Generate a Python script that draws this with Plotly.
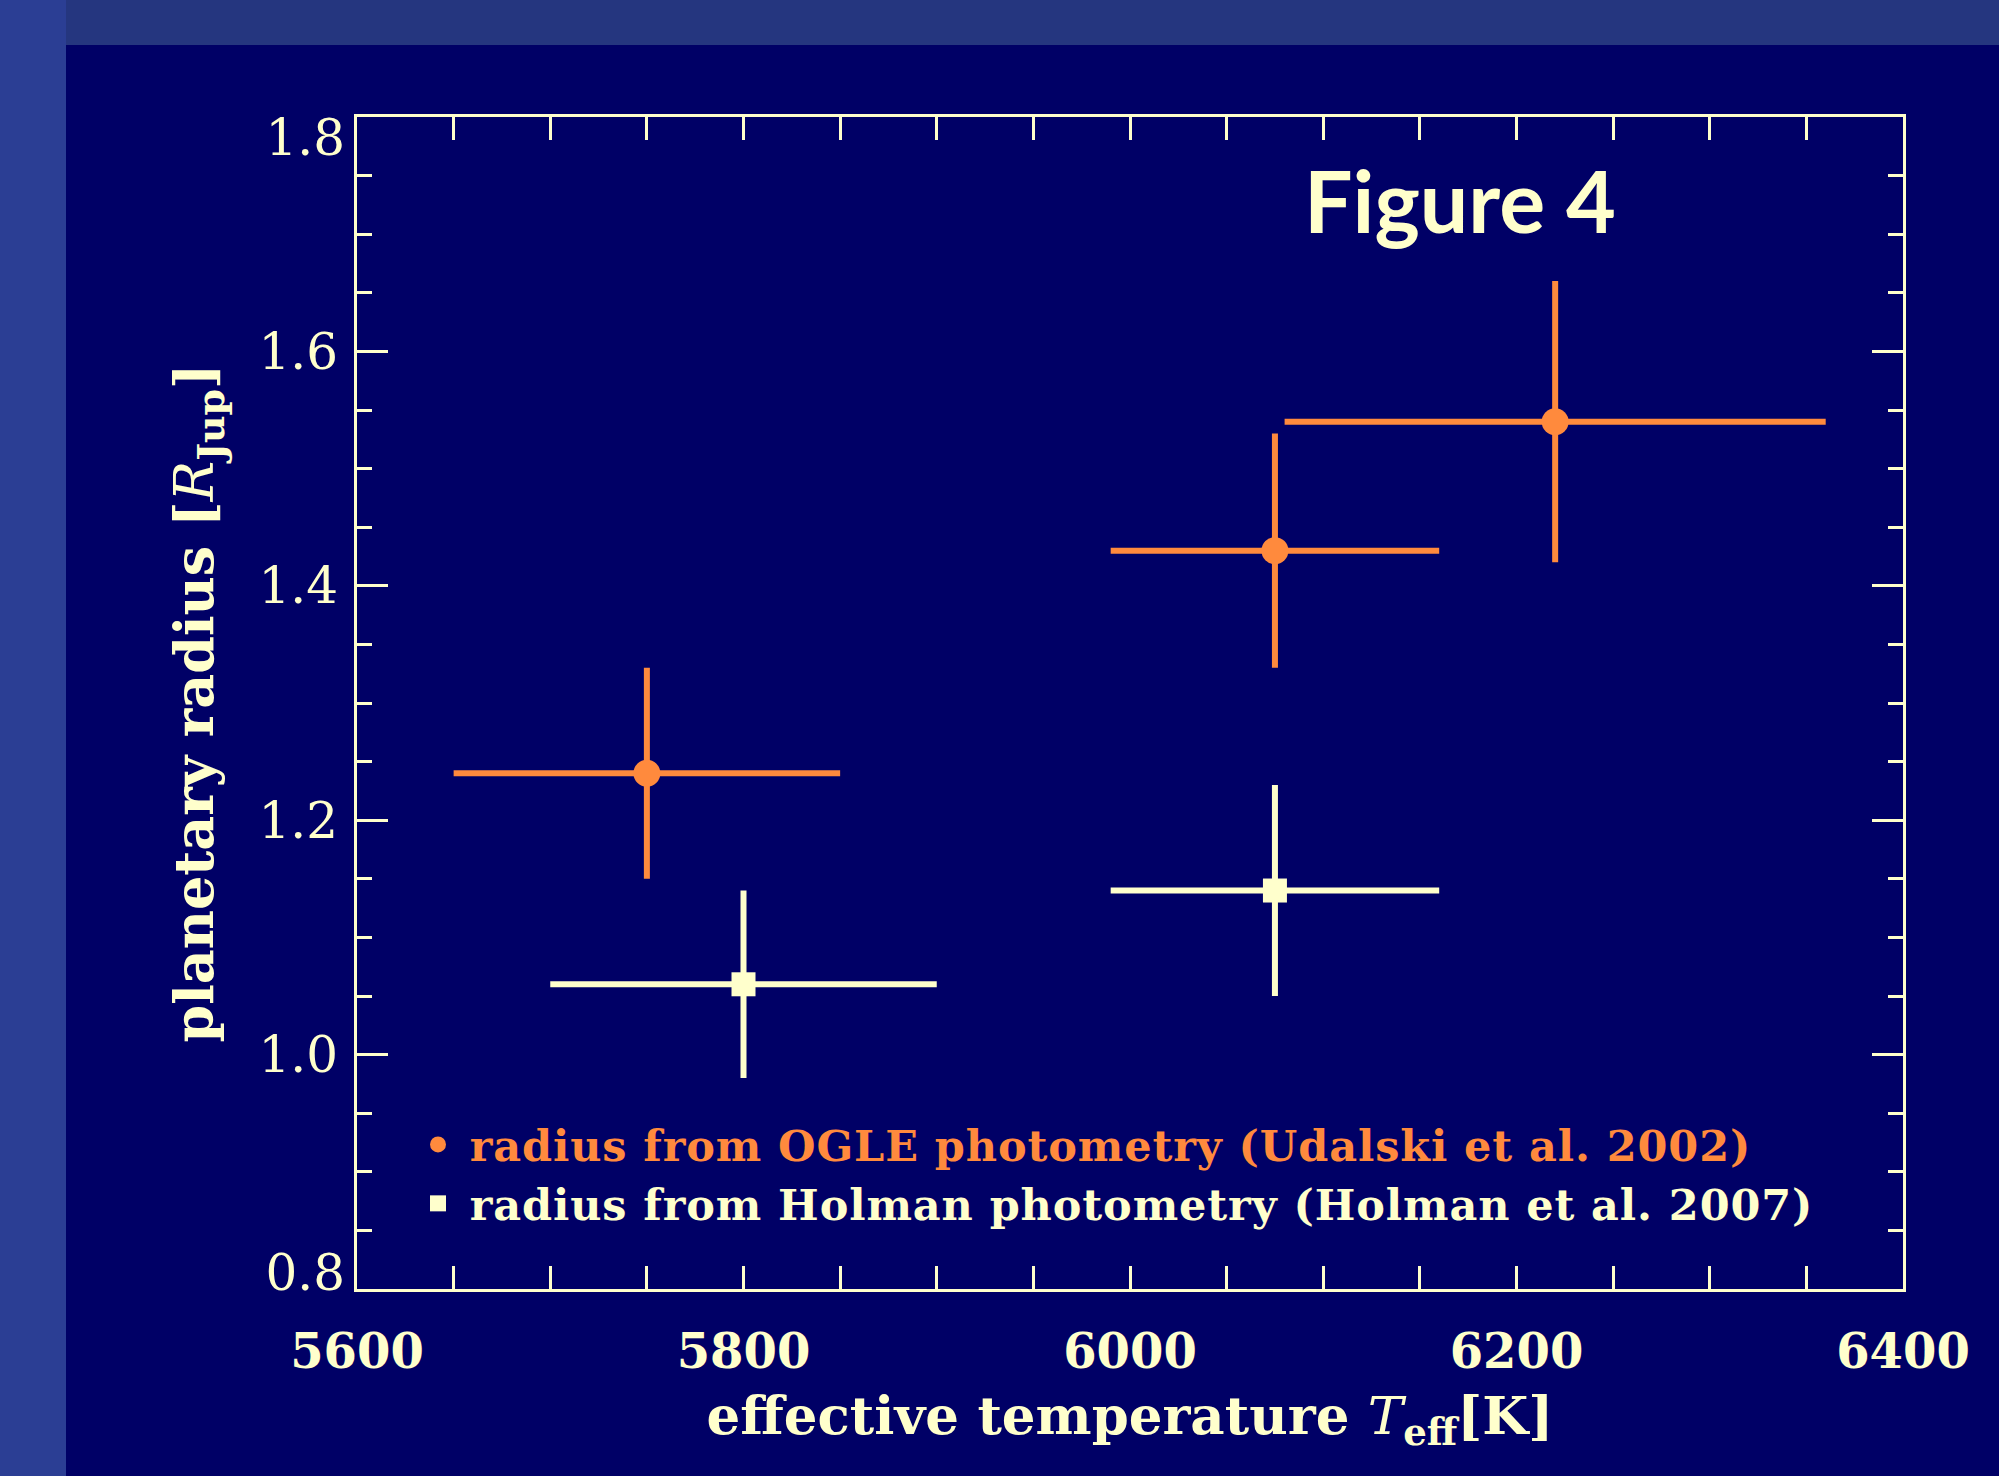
import plotly.graph_objects as go

# ---- data ----
ogle_teff = [5750, 6075, 6220]
ogle_teff_err = [100, 85, 140]
ogle_radius = [1.24, 1.43, 1.54]
ogle_radius_err = [0.09, 0.10, 0.12]

holman_teff = [5800, 6075]
holman_teff_err = [100, 85]
holman_radius = [1.06, 1.14]
holman_radius_err = [0.08, 0.09]

x_ticks = [5600, 5800, 6000, 6200, 6400]
y_ticks = [0.8, 1.0, 1.2, 1.4, 1.6, 1.8]

ORANGE = "#FF8A3D"
CREAM = "#FFFFCC"
PANEL = "#000066"

W, H = 1999, 1476
L, R, T, B = 357, 96, 117, 187
PW, PH = W - L - R, H - T - B


def px_to_paper_x(px):
    return (px - L) / PW


def px_to_paper_y(py):
    return (H - B - py) / PH


LS = "letter-spacing:0.9px"
GAP = "\u2005"

fig = go.Figure()

fig.add_trace(go.Scatter(
    x=ogle_teff, y=ogle_radius, mode="markers",
    name="<span style='color:%s;%s'>%sradius from OGLE photometry (Udalski et al. 2002)</span>" % (ORANGE, LS, GAP),
    marker=dict(symbol="circle", size=27, color=ORANGE),
    error_x=dict(type="data", array=ogle_teff_err, color=ORANGE, thickness=6, width=0),
    error_y=dict(type="data", array=ogle_radius_err, color=ORANGE, thickness=6, width=0),
))
fig.add_trace(go.Scatter(
    x=holman_teff, y=holman_radius, mode="markers",
    name="<span style='%s'>%sradius from Holman photometry (Holman et al. 2007)</span>" % (LS, GAP),
    marker=dict(symbol="square", size=24, color=CREAM),
    error_x=dict(type="data", array=holman_teff_err, color=CREAM, thickness=6, width=0),
    error_y=dict(type="data", array=holman_radius_err, color=CREAM, thickness=6, width=0),
))
# empty helper traces so the overlay axes (end tick labels) are drawn
fig.add_trace(go.Scatter(x=[], y=[], yaxis="y2", showlegend=False, hoverinfo="skip"))
fig.add_trace(go.Scatter(x=[], y=[], yaxis="y3", showlegend=False, hoverinfo="skip"))

axis_common = dict(
    showgrid=False, zeroline=False, showline=True, linecolor=CREAM, linewidth=3,
    mirror="allticks", ticks="inside", tickcolor=CREAM, tickwidth=3,
)
ytickfont = dict(family="DejaVu Serif", size=50, color=CREAM)

fig.update_xaxes(
    **axis_common,
    range=[5600, 6400], tickvals=x_ticks, ticklen=23,
    minor=dict(dtick=50, ticks="inside", ticklen=12, tickwidth=3, tickcolor=CREAM, showgrid=False),
    tickfont=dict(family="DejaVu Serif", size=48, color=CREAM, weight="bold"),
    ticklabelstandoff=18,
    title=dict(
        text="<b>effective temperature </b><i>T</i><b><sub>eff</sub>[K]</b>",
        font=dict(family="DejaVu Serif", size=53, color=CREAM),
        standoff=20,
    ),
)

fig.update_layout(
    yaxis=dict(
        **axis_common,
        range=[0.8, 1.8], tickvals=y_ticks[1:-1], tickformat=".1f", ticklen=31,
        minor=dict(dtick=0.05, ticks="inside", ticklen=15, tickwidth=3, tickcolor=CREAM, showgrid=False),
        tickfont=ytickfont,
        ticklabelstandoff=6,
        title=dict(
            text="<b>planetary radius [</b><i>R</i><b><sub>Jup</sub>]</b>",
            font=dict(family="DejaVu Serif", size=54, color=CREAM),
            standoff=28,
        ),
    ),
    yaxis2=dict(
        overlaying="y", anchor="x", side="left", range=[0.8, 1.8],
        tickvals=[y_ticks[-1]], tickformat=".1f", ticks="", showline=False,
        showgrid=False, zeroline=False, tickfont=ytickfont,
        ticklabelstandoff=11, ticklabelshift=20,
    ),
    yaxis3=dict(
        overlaying="y", anchor="x", side="left", range=[0.8, 1.8],
        tickvals=[y_ticks[0]], tickformat=".1f", ticks="", showline=False,
        showgrid=False, zeroline=False, tickfont=ytickfont,
        ticklabelstandoff=11, ticklabelshift=-17,
    ),
)

fig.add_annotation(
    text="<b>Figure 4</b>", xref="paper", yref="paper",
    x=px_to_paper_x(1460), y=px_to_paper_y(199), xanchor="center", yanchor="middle",
    showarrow=False, font=dict(family="Lato", size=86, color=CREAM),
)

# background panels
fig.add_shape(type="rect", xref="paper", yref="paper", layer="below",
              x0=px_to_paper_x(0), x1=px_to_paper_x(66), y0=px_to_paper_y(H), y1=px_to_paper_y(0),
              fillcolor="#2B3E94", line=dict(width=0))
fig.add_shape(type="rect", xref="paper", yref="paper", layer="below",
              x0=px_to_paper_x(66), x1=px_to_paper_x(W), y0=px_to_paper_y(H), y1=px_to_paper_y(45),
              fillcolor=PANEL, line=dict(width=0))

fig.update_layout(
    width=W, height=H,
    margin=dict(l=L, r=R, t=T, b=B, autoexpand=False),
    paper_bgcolor="#25367F", plot_bgcolor=PANEL,
    showlegend=True,
    legend=dict(
        x=px_to_paper_x(418), y=px_to_paper_y(1110), xanchor="left", yanchor="top",
        bgcolor="rgba(0,0,0,0)", borderwidth=0,
        font=dict(family="DejaVu Serif", size=43, color=CREAM, weight="bold"),
        itemsizing="trace", tracegroupgap=0,
    ),
)

fig.write_html("out.html", config={"displayModeBar": False})
